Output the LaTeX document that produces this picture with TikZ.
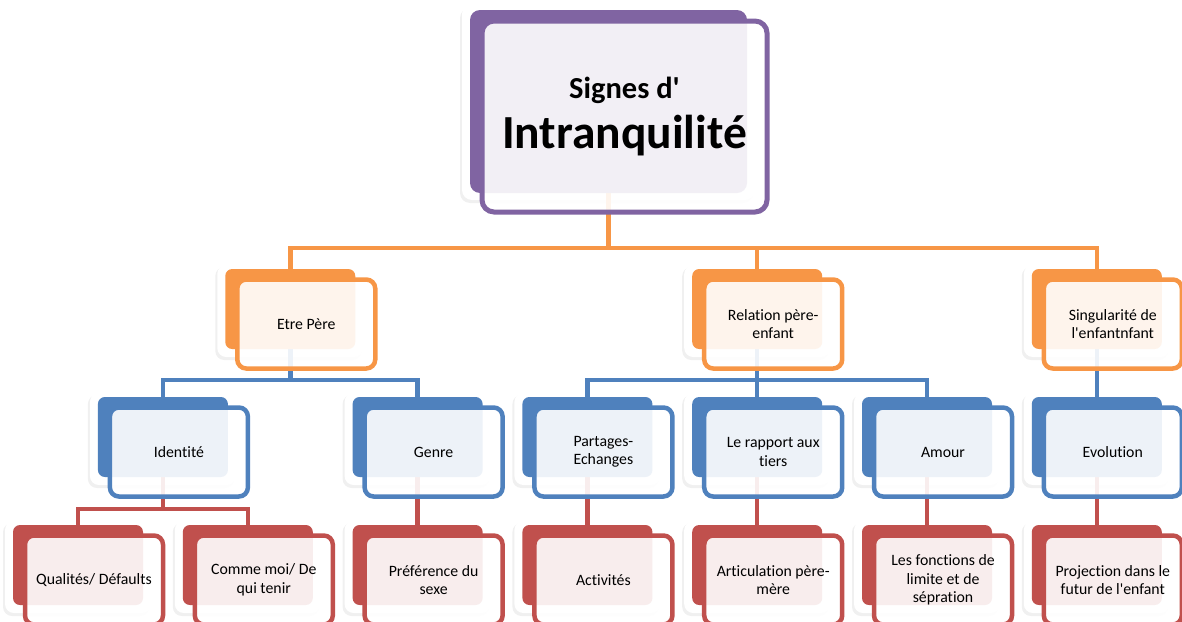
\documentclass[tikz,border=0pt]{standalone}
\usepackage{fontspec}
\setmainfont{Carlito}[Ligatures={TeXOff,NoCommon}]
\usetikzlibrary{calc}
\pgfdeclarelayer{halo}
\pgfdeclarelayer{lines}
\pgfsetlayers{halo,lines,main}
\definecolor{cor}{HTML}{F79646}
\definecolor{cbl}{HTML}{4F81BD}
\definecolor{cre}{HTML}{C0504D}
\definecolor{cpu}{HTML}{8064A2}
\newcommand\smfont{\fontsize{15.8}{18.5}\selectfont}
\tikzset{
  backbox/.style={rectangle, rounded corners=7pt, inner sep=0pt, outer sep=0pt},
  frontbox/.style={rectangle, rounded corners=9pt, line width=4.5pt, fill=white,
    fill opacity=0.9, text opacity=1, align=center, inner sep=0pt, text=black},
  conn/.style={line width=4.5pt},
}
% name, left, top, width, height, colour, font, text
\newcommand\dbox[8]{%
  \begin{pgfonlayer}{halo}
    \fill[black!6, rounded corners=9pt] (#2-10,#3-2) rectangle (#2+#4+6,#3+#5+11);
    \fill[white, rounded corners=9pt] (#2-8,#3-4) rectangle (#2+#4+8,#3+#5+8);
  \end{pgfonlayer}
  \node[backbox, fill=#6, minimum width=#4pt, minimum height=#5pt] (#1b) at (#2+#4/2,#3+#5/2) {};
  \node[frontbox, draw=#6, minimum width=#4pt+8pt, minimum height=#5pt+9pt, font=#7] (#1) at (#2+#4/2+16,#3+#5/2+15) {#8};
}
\begin{document}
\begin{tikzpicture}[x=1pt,y=-1pt]
\useasboundingbox (0,0) rectangle (1182,621);
\coordinate (yA) at (0,248);
\coordinate (yB) at (0,380);
\coordinate (yC) at (0,509);
% main
\begin{pgfonlayer}{halo}
  \fill[black!6, rounded corners=10pt] (460,8) rectangle (753,203);
  \fill[white, rounded corners=10pt] (462,4) rectangle (755,200);
\end{pgfonlayer}
\node[backbox, rounded corners=10pt, fill=cpu, minimum width=277pt, minimum height=183pt] (mainb) at (608.5,101.5) {};
\node[frontbox, rounded corners=12pt, line width=5pt, draw=cpu, minimum width=285pt, minimum height=191pt, font=\bfseries] (main) at (624.5,116.5)
  {\fontsize{30.5}{36}\selectfont Signes d'\\[10pt]\fontsize{47.5}{50}\selectfont Intranquilité};
% level 1
\dbox{etre}{225.25}{269}{130}{80}{cor}{\smfont}{Etre Père}
\dbox{rel}{692.2}{269}{130}{80}{cor}{\smfont}{Relation père-\\enfant}
\dbox{sing}{1031.8}{269}{130}{80}{cor}{\smfont}{Singularité de\\l'enfantnfant}
% level 2
\dbox{ident}{97.9}{397}{130}{80}{cbl}{\smfont}{Identité}
\dbox{genre}{352.6}{397}{130}{80}{cbl}{\smfont}{Genre}
\dbox{part}{522.4}{397}{130}{80}{cbl}{\smfont}{Partages-\\Echanges}
\dbox{rapp}{692.2}{397}{130}{80}{cbl}{\smfont}{Le rapport aux\\tiers}
\dbox{amour}{862}{397}{130}{80}{cbl}{\smfont}{Amour}
\dbox{evol}{1031.8}{397}{130}{80}{cbl}{\smfont}{Evolution}
% level 3
\dbox{qual}{13}{525}{130}{80}{cre}{\smfont}{Qualités/ Défaults}
\dbox{comme}{182.8}{525}{130}{80}{cre}{\smfont}{Comme moi/ De\\qui tenir}
\dbox{pref}{352.6}{525}{130}{80}{cre}{\smfont}{Préférence du\\sexe}
\dbox{activ}{522.4}{525}{130}{80}{cre}{\smfont}{Activités}
\dbox{artic}{692.2}{525}{130}{80}{cre}{\smfont}{Articulation père-\\mère}
\dbox{fonct}{862}{525}{130}{80}{cre}{\smfont}{Les fonctions de\\limite et de\\sépration}
\dbox{proj}{1031.8}{525}{130}{80}{cre}{\smfont}{Projection dans le\\futur de l'enfant}
% connectors
\begin{pgfonlayer}{lines}
  \draw[conn, cor] (mainb.center) -- (mainb.center |- yA) -| (etreb.center);
  \draw[conn, cor] (mainb.center |- yA) -| (relb.center);
  \draw[conn, cor] (mainb.center |- yA) -| (singb.center);
  \draw[conn, cbl] (etreb.center) -- (etreb.center |- yB) -| (identb.center);
  \draw[conn, cbl] (etreb.center |- yB) -| (genreb.center);
  \draw[conn, cbl] (relb.center) -- (relb.center |- yB) -| (partb.center);
  \draw[conn, cbl] (relb.center |- yB) -| (amourb.center);
  \draw[conn, cbl] (relb.center) -- (rappb.center);
  \draw[conn, cbl] (singb.center) -- (evolb.center);
  \draw[conn, cre] (identb.center) -- (identb.center |- yC) -| (qualb.center);
  \draw[conn, cre] (identb.center |- yC) -| (commeb.center);
  \draw[conn, cre] (genreb.center) -- (prefb.center);
  \draw[conn, cre] (partb.center) -- (activb.center);
  \draw[conn, cre] (rappb.center) -- (articb.center);
  \draw[conn, cre] (amourb.center) -- (fonctb.center);
  \draw[conn, cre] (evolb.center) -- (projb.center);
\end{pgfonlayer}
\end{tikzpicture}
\end{document}
